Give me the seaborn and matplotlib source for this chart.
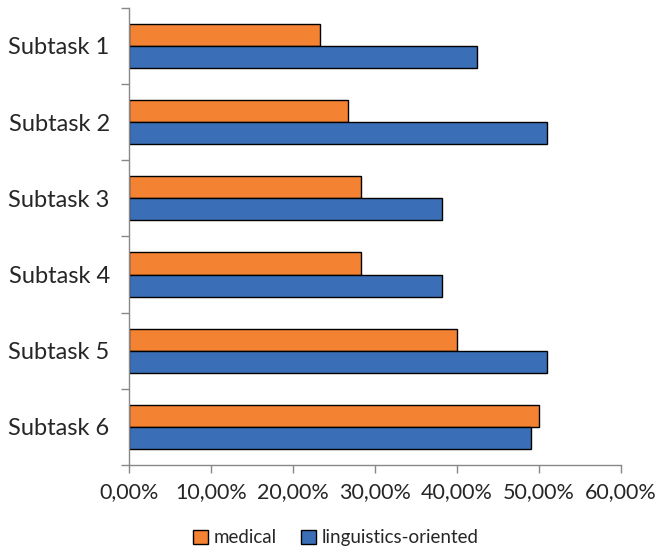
import seaborn as sns
from matplotlib import pyplot as plt
from matplotlib import ticker as mticker
from matplotlib import patches as mpatches
import pandas as pd
import numpy as np

subtasks = ["Subtask 1", "Subtask 2", "Subtask 3", "Subtask 4", "Subtask 5", "Subtask 6"]
medical = [23.3, 26.7, 28.3, 28.3, 40.0, 50.0]
linguistics = [42.5, 51.0, 38.2, 38.2, 51.0, 49.0]
groups = ["medical", "linguistics-oriented"]
colors = ["#F38233", "#3A6FB7"]

if __name__ == "__main__":
	data = pd.DataFrame({
		"subtask": subtasks * 2,
		"value": medical + linguistics,
		"group": [groups[0]] * len(subtasks) + [groups[1]] * len(subtasks),
	})

	sns.set_style("white")
	plt.rcParams["font.family"] = ["Lato", "DejaVu Sans"]

	fig = plt.figure(figsize=(6.59, 5.55), dpi=100)
	ax = fig.add_axes([0.196, 0.162, 0.746, 0.824])
	sns.barplot(data, x="value", y="subtask", hue="group", hue_order=groups,
		palette=colors, saturation=1, orient="h", width=0.58, edgecolor="black", linewidth=1,
		legend=False, ax=ax)

	# excel-like axes
	ax.set_xlim(0, 60)
	ax.set_ylim(len(subtasks) - 0.5, -0.5)
	ax.set_xticks(np.arange(0, 61, 10))
	ax.xaxis.set_major_formatter(mticker.FuncFormatter(lambda v, p: f"{v:.2f}%".replace(".", ",")))
	ax.set_yticks(np.arange(-0.5, len(subtasks), 1))
	ax.set_yticklabels([])
	ax.set_yticks(np.arange(len(subtasks)), minor=True)
	ax.set_yticklabels(subtasks, minor=True)
	ax.tick_params(axis="y", which="minor", length=0, pad=14, labelsize=17)
	ax.tick_params(axis="y", which="major", length=6, width=1, color="#888888", direction="out", left=True)
	ax.tick_params(axis="x", length=6, width=1, color="#888888", direction="out", bottom=True, labelsize=15.5, pad=6)
	for s in ["top", "right"]:
		ax.spines[s].set_visible(False)
	for s in ["left", "bottom"]:
		ax.spines[s].set_color("#888888")
		ax.spines[s].set_linewidth(1)
	ax.set_xlabel("")
	ax.set_ylabel("")

	handles = [mpatches.Patch(facecolor=c, edgecolor="black", linewidth=1, label=g) for c, g in zip(colors, groups)]
	fig.legend(handles=handles, loc="lower center", bbox_to_anchor=(0.51, -0.015), ncol=2, frameon=False,
		fontsize=13.5, handlelength=0.8, handleheight=0.8, handletextpad=0.3, columnspacing=1.3)

	fig.savefig("out.png", dpi=100)
